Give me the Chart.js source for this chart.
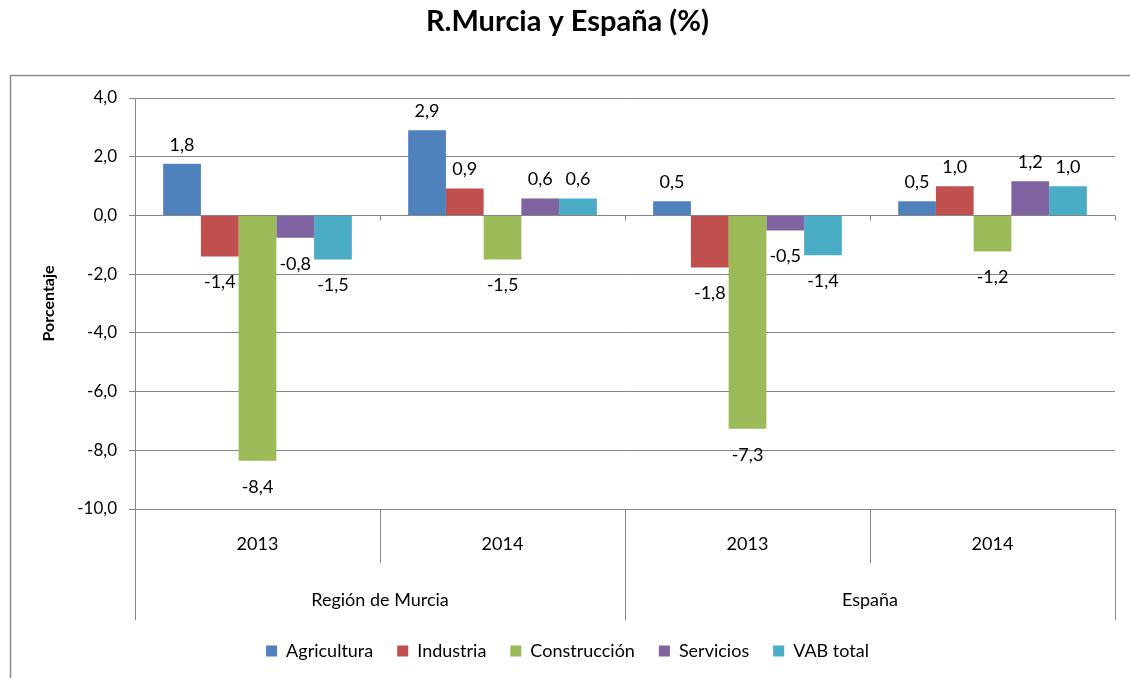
<!DOCTYPE html>
<html>
<head>
<meta charset="utf-8">
<script src="https://cdn.jsdelivr.net/npm/chart.js@4.4.1/dist/chart.umd.min.js"></script>
<style>
  html, body { margin: 0; padding: 0; background: #fff; }
  #wrap { width: 1130px; height: 678px; }
</style>
</head>
<body>
<div id="wrap"><canvas id="chart" width="1130" height="678"></canvas></div>
<script>
// Data
const years = ['2013', '2014', '2013', '2014'];
const groups = ['Región de Murcia', 'España'];
const yearsPerGroup = 2;

const agricultura  = [1.76, 2.9, 0.48, 0.48];
const industria    = [-1.4, 0.92, -1.77, 0.99];
const construccion = [-8.36, -1.5, -7.27, -1.23];
const servicios    = [-0.76, 0.58, -0.51, 1.16];
const vabTotal     = [-1.5, 0.58, -1.36, 0.99];

const seriesNames = ['Agricultura', 'Industria', 'Construcción', 'Servicios', 'VAB total'];
const seriesColors = ['#4F81BD', '#C0504D', '#9BBB59', '#8064A2', '#4BACC6'];

const fmt = v => v.toFixed(1).replace('.', ',');
const FONT = 'Lato, "Open Sans", sans-serif';
const gridColor = '#868686';

Chart.defaults.font.family = FONT;
Chart.defaults.color = '#000';

// outer frame drawn behind everything
const framePlugin = {
    id: 'frame',
    beforeDraw(chart) {
        const ctx = chart.ctx;
        ctx.save();
        ctx.strokeStyle = '#8a8a8a';
        ctx.lineWidth = 1.5;
        ctx.beginPath();
        ctx.moveTo(10.5, 678);
        ctx.lineTo(10.5, 75.5);
        ctx.lineTo(1130, 75.5);
        ctx.stroke();
        ctx.restore();
    }
};

// multi-level category separators under the plot
const separatorPlugin = {
    id: 'separators',
    afterDraw(chart) {
        const x = chart.scales.x, x2 = chart.scales.x2, y = chart.scales.y;
        const ctx = chart.ctx;
        const n = years.length;
        const step = (x.right - x.left) / n;
        const y0 = Math.round(y.getPixelForValue(0)) + 0.5;
        ctx.save();
        ctx.strokeStyle = gridColor;
        ctx.lineWidth = 1;
        for (let i = 0; i <= n; i++) {
            const xb = Math.round(x.left + i * step) + 0.5;
            const long = i % yearsPerGroup === 0;
            ctx.beginPath();
            ctx.moveTo(xb, x.top);
            ctx.lineTo(xb, long ? x2.bottom + 2 : x.bottom);
            ctx.stroke();
            // small tick marks on the zero line
            ctx.beginPath();
            ctx.moveTo(xb, y0);
            ctx.lineTo(xb, y0 + 5);
            ctx.stroke();
        }
        ctx.restore();
    }
};

// value labels outside the bar ends
const valueLabels = {
    id: 'valueLabels',
    afterDatasetsDraw(chart) {
        const ctx = chart.ctx;
        ctx.save();
        ctx.font = '18px ' + FONT;
        ctx.fillStyle = '#000';
        ctx.textAlign = 'center';
        ctx.textBaseline = 'middle';
        chart.data.datasets.forEach((ds, di) => {
            const meta = chart.getDatasetMeta(di);
            meta.data.forEach((bar, i) => {
                const v = ds.data[i];
                const ty = v >= 0 ? bar.y - 19 : bar.y + 26;
                ctx.fillText(fmt(v), bar.x, ty);
            });
        });
        ctx.restore();
    }
};

const allSeries = [agricultura, industria, construccion, servicios, vabTotal];

new Chart(document.getElementById('chart'), {
    type: 'bar',
    data: {
        labels: years,
        datasets: allSeries.map((d, i) => ({
            label: seriesNames[i],
            data: d,
            backgroundColor: seriesColors[i],
            borderWidth: 0,
            categoryPercentage: 0.77,
            barPercentage: 1.0
        }))
    },
    options: {
        responsive: false,
        animation: false,
        layout: { padding: { left: 20, right: 15, top: 0, bottom: 8 } },
        plugins: {
            title: {
                display: true,
                text: 'R.Murcia y España (%)',
                font: { size: 29, weight: 'bold', family: FONT },
                color: '#000',
                padding: { top: 4.5, bottom: 58.7 }
            },
            legend: {
                position: 'bottom',
                labels: {
                    boxWidth: 11,
                    boxHeight: 11,
                    padding: 24,
                    font: { size: 18, family: FONT },
                    color: '#000'
                }
            },
            tooltip: { enabled: false }
        },
        scales: {
            y: {
                min: -10,
                max: 4,
                afterFit(scale) { scale.width = 115; },
                ticks: {
                    stepSize: 2,
                    padding: 12,
                    font: { size: 17 },
                    callback: v => fmt(v)
                },
                grid: { color: gridColor, tickLength: 6 },
                border: { color: gridColor },
                title: {
                    display: true,
                    text: 'Porcentaje',
                    font: { size: 16, weight: 'bold' },
                    padding: { top: 19, bottom: 0 }
                }
            },
            x: {
                position: 'bottom',
                weight: 0,
                afterFit(scale) { scale.height = 54; },
                grid: { display: false, drawTicks: false },
                border: { display: false },
                ticks: { padding: 24.2, font: { size: 18 }, maxRotation: 0 }
            },
            x2: {
                type: 'category',
                labels: groups,
                position: 'bottom',
                weight: 1,
                offset: true,
                afterFit(scale) { scale.height = 55; },
                grid: { display: false, drawTicks: false },
                border: { display: false },
                ticks: { padding: 26.2, font: { size: 18 }, maxRotation: 0 }
            }
        }
    },
    plugins: [framePlugin, separatorPlugin, valueLabels]
});
</script>
</body>
</html>
